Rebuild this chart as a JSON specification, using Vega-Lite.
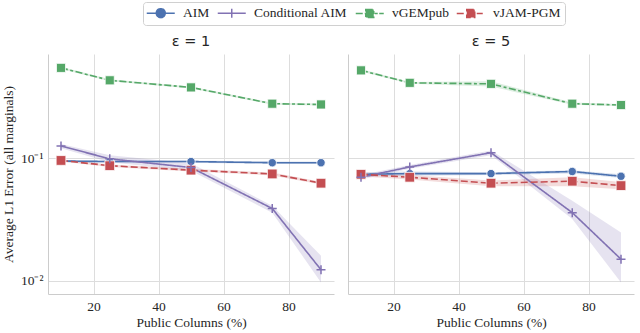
{
  "$schema": "https://vega.github.io/schema/vega-lite/v6.json",
  "padding": {"left": 1, "right": 2, "top": 1, "bottom": 2},
  "background": "white",
  "data": {"values": [
    {"eps": "1", "method": "AIM", "x": 10, "y": 0.095, "lo": 0.093, "hi": 0.097},
    {"eps": "1", "method": "AIM", "x": 25, "y": 0.094, "lo": 0.092, "hi": 0.096},
    {"eps": "1", "method": "AIM", "x": 50, "y": 0.094, "lo": 0.092, "hi": 0.096},
    {"eps": "1", "method": "AIM", "x": 75, "y": 0.092, "lo": 0.090, "hi": 0.094},
    {"eps": "1", "method": "AIM", "x": 90, "y": 0.092, "lo": 0.090, "hi": 0.094},
    {"eps": "1", "method": "Conditional AIM", "x": 10, "y": 0.126, "lo": 0.121, "hi": 0.131},
    {"eps": "1", "method": "Conditional AIM", "x": 25, "y": 0.099, "lo": 0.093, "hi": 0.106},
    {"eps": "1", "method": "Conditional AIM", "x": 50, "y": 0.084, "lo": 0.079, "hi": 0.091},
    {"eps": "1", "method": "Conditional AIM", "x": 75, "y": 0.0389, "lo": 0.036, "hi": 0.041},
    {"eps": "1", "method": "Conditional AIM", "x": 90, "y": 0.0123, "lo": 0.0097, "hi": 0.016},
    {"eps": "1", "method": "vGEMpub", "x": 10, "y": 0.547, "lo": 0.535, "hi": 0.56},
    {"eps": "1", "method": "vGEMpub", "x": 25, "y": 0.433, "lo": 0.425, "hi": 0.442},
    {"eps": "1", "method": "vGEMpub", "x": 50, "y": 0.379, "lo": 0.372, "hi": 0.386},
    {"eps": "1", "method": "vGEMpub", "x": 75, "y": 0.279, "lo": 0.274, "hi": 0.284},
    {"eps": "1", "method": "vGEMpub", "x": 90, "y": 0.275, "lo": 0.27, "hi": 0.28},
    {"eps": "1", "method": "vJAM-PGM", "x": 10, "y": 0.096, "lo": 0.094, "hi": 0.098},
    {"eps": "1", "method": "vJAM-PGM", "x": 25, "y": 0.087, "lo": 0.085, "hi": 0.089},
    {"eps": "1", "method": "vJAM-PGM", "x": 50, "y": 0.080, "lo": 0.078, "hi": 0.082},
    {"eps": "1", "method": "vJAM-PGM", "x": 75, "y": 0.0745, "lo": 0.0725, "hi": 0.0765},
    {"eps": "1", "method": "vJAM-PGM", "x": 90, "y": 0.0626, "lo": 0.061, "hi": 0.0642},
    {"eps": "5", "method": "AIM", "x": 10, "y": 0.074, "lo": 0.071, "hi": 0.077},
    {"eps": "5", "method": "AIM", "x": 25, "y": 0.075, "lo": 0.072, "hi": 0.078},
    {"eps": "5", "method": "AIM", "x": 50, "y": 0.075, "lo": 0.073, "hi": 0.077},
    {"eps": "5", "method": "AIM", "x": 75, "y": 0.078, "lo": 0.075, "hi": 0.080},
    {"eps": "5", "method": "AIM", "x": 90, "y": 0.0713, "lo": 0.069, "hi": 0.074},
    {"eps": "5", "method": "Conditional AIM", "x": 10, "y": 0.070, "lo": 0.067, "hi": 0.073},
    {"eps": "5", "method": "Conditional AIM", "x": 25, "y": 0.085, "lo": 0.082, "hi": 0.088},
    {"eps": "5", "method": "Conditional AIM", "x": 50, "y": 0.111, "lo": 0.106, "hi": 0.116},
    {"eps": "5", "method": "Conditional AIM", "x": 75, "y": 0.036, "lo": 0.032, "hi": 0.045},
    {"eps": "5", "method": "Conditional AIM", "x": 90, "y": 0.0150, "lo": 0.0097, "hi": 0.0248},
    {"eps": "5", "method": "vGEMpub", "x": 10, "y": 0.522, "lo": 0.51, "hi": 0.535},
    {"eps": "5", "method": "vGEMpub", "x": 25, "y": 0.413, "lo": 0.405, "hi": 0.42},
    {"eps": "5", "method": "vGEMpub", "x": 50, "y": 0.405, "lo": 0.385, "hi": 0.425},
    {"eps": "5", "method": "vGEMpub", "x": 75, "y": 0.279, "lo": 0.273, "hi": 0.285},
    {"eps": "5", "method": "vGEMpub", "x": 90, "y": 0.272, "lo": 0.266, "hi": 0.278},
    {"eps": "5", "method": "vJAM-PGM", "x": 10, "y": 0.074, "lo": 0.071, "hi": 0.077},
    {"eps": "5", "method": "vJAM-PGM", "x": 25, "y": 0.070, "lo": 0.067, "hi": 0.073},
    {"eps": "5", "method": "vJAM-PGM", "x": 50, "y": 0.0626, "lo": 0.059, "hi": 0.066},
    {"eps": "5", "method": "vJAM-PGM", "x": 75, "y": 0.065, "lo": 0.059, "hi": 0.070},
    {"eps": "5", "method": "vJAM-PGM", "x": 90, "y": 0.0598, "lo": 0.056, "hi": 0.064}
  ]},
  "spacing": 14,
  "hconcat": [
    {
      "width": 286,
      "height": 240,
      "title": {"text": "ε = 1", "font": "DejaVu Sans", "fontSize": 14.5, "fontWeight": "normal", "color": "#262626", "offset": 5},
      "transform": [{"filter": "datum.eps === '1'"}],
      "encoding": {
        "x": {"field": "x", "type": "quantitative", "scale": {"domain": [6, 94], "nice": false}, "axis": {"values": [20, 40, 60, 80], "title": "Public Columns (%)"}},
        "color": {"field": "method", "type": "nominal", "scale": {"domain": ["AIM", "Conditional AIM", "vGEMpub", "vJAM-PGM"], "range": ["#4C72B0", "#8172B3", "#55A868", "#C44E52"]}}
      },
      "layer": [
        {
          "mark": {"type": "area", "opacity": 0.2},
          "encoding": {
            "y": {"field": "lo", "type": "quantitative", "scale": {"type": "log", "domain": [0.0078, 0.71], "nice": false}, "axis": {"values": [0.01, 0.1], "labelExpr": "datum.value < 0.05 ? '10⁻²' : '10⁻¹'", "title": "Average L1 Error (all marginals)"}},
            "y2": {"field": "hi"}
          }
        },
        {
          "mark": {"type": "line", "strokeWidth": 1.6},
          "encoding": {
            "y": {"field": "y", "type": "quantitative"},
            "color": {"field": "method", "type": "nominal", "legend": {
              "orient": "none", "legendX": 95, "legendY": -52, "direction": "horizontal", "columns": 4,
              "title": null, "labelFont": "Liberation Serif", "labelFontSize": 13.5, "labelColor": "#262626",
              "strokeColor": "#d0d0d0", "fillColor": "white", "cornerRadius": 3, "padding": 4,
              "symbolSize": 100, "symbolOffset": 7, "columnPadding": 4, "labelOffset": 15.5,
              "encode": {"symbols": {"update": {
                "shape": {"signal": "datum.value === 'AIM' ? 'M-2.8,0H2.8M0.9,0A0.9,0.9,0,1,1,-0.9,0A0.9,0.9,0,1,1,0.9,0Z' : datum.value === 'Conditional AIM' ? 'M-2.8,0H2.8M0,-0.9V0.9M-0.9,0H0.9' : datum.value === 'vGEMpub' ? 'M-2.8,0H-1.3M-1.0,0H-0.6M1.0,0H1.6M1.9,0H2.8M-0.8,-0.8H0.8V0.8H-0.8Z' : 'M-2.8,0H-1.0M1.2,0H2.4M-0.8,-0.8H0.8V0.8H-0.8Z'"},
                "fill": {"signal": "scale('color', datum.value)"},
                "stroke": {"signal": "scale('color', datum.value)"},
                "strokeWidth": {"value": 1.5},
                "strokeDash": {"value": [1, 0]},
                "opacity": {"value": 1},
                "fillOpacity": {"value": 1},
                "size": {"value": 100}
              }}}
            }},
            "strokeDash": {"field": "method", "type": "nominal", "scale": {"domain": ["AIM", "Conditional AIM", "vGEMpub", "vJAM-PGM"], "range": [[1, 0], [1, 0], [7, 2.5, 3, 2.5], [7, 3]]}, "legend": null}
          }
        },
        {
          "transform": [{"filter": "datum.method !== 'Conditional AIM'"}],
          "mark": {"type": "point", "filled": true, "opacity": 1, "stroke": "white", "strokeWidth": 0.8},
          "encoding": {
            "y": {"field": "y", "type": "quantitative"},
            "shape": {"field": "method", "type": "nominal", "scale": {"domain": ["AIM", "vGEMpub", "vJAM-PGM"], "range": ["circle", "square", "square"]}, "legend": null},
            "size": {"field": "method", "type": "nominal", "scale": {"domain": ["AIM", "vGEMpub", "vJAM-PGM"], "range": [70, 95, 95]}, "legend": null}
          }
        },
        {
          "transform": [{"filter": "datum.method === 'Conditional AIM'"}],
          "mark": {"type": "point", "filled": false, "opacity": 1, "shape": "M-1,0H1M0,-1V1", "size": 81, "strokeWidth": 1.5},
          "encoding": {
            "y": {"field": "y", "type": "quantitative"}
          }
        }
      ]
    },
    {
      "width": 286,
      "height": 240,
      "title": {"text": "ε = 5", "font": "DejaVu Sans", "fontSize": 14.5, "fontWeight": "normal", "color": "#262626", "offset": 5},
      "transform": [{"filter": "datum.eps === '5'"}],
      "encoding": {
        "x": {"field": "x", "type": "quantitative", "scale": {"domain": [6, 94], "nice": false}, "axis": {"values": [20, 40, 60, 80], "title": "Public Columns (%)"}},
        "color": {"field": "method", "type": "nominal"}
      },
      "layer": [
        {
          "mark": {"type": "area", "opacity": 0.2},
          "encoding": {
            "y": {"field": "lo", "type": "quantitative", "scale": {"type": "log", "domain": [0.0078, 0.71], "nice": false}, "axis": {"values": [0.01, 0.1], "labels": false, "title": null}},
            "y2": {"field": "hi"}
          }
        },
        {
          "mark": {"type": "line", "strokeWidth": 1.6},
          "encoding": {
            "y": {"field": "y", "type": "quantitative"},
            "strokeDash": {"field": "method", "type": "nominal", "legend": null}
          }
        },
        {
          "transform": [{"filter": "datum.method !== 'Conditional AIM'"}],
          "mark": {"type": "point", "filled": true, "opacity": 1, "stroke": "white", "strokeWidth": 0.8},
          "encoding": {
            "y": {"field": "y", "type": "quantitative"},
            "shape": {"field": "method", "type": "nominal", "legend": null},
            "size": {"field": "method", "type": "nominal", "legend": null}
          }
        },
        {
          "transform": [{"filter": "datum.method === 'Conditional AIM'"}],
          "mark": {"type": "point", "filled": false, "opacity": 1, "shape": "M-1,0H1M0,-1V1", "size": 81, "strokeWidth": 1.5},
          "encoding": {
            "y": {"field": "y", "type": "quantitative"}
          }
        }
      ]
    }
  ],
  "config": {
    "view": {"stroke": null},
    "font": "Liberation Serif",
    "axis": {
      "grid": true, "gridColor": "#dddddd", "gridWidth": 1,
      "domainColor": "#cccccc", "domainWidth": 1,
      "ticks": false, "tickSize": 0,
      "labelFont": "Liberation Serif", "labelFontSize": 13.5, "labelColor": "#262626", "labelPadding": 5,
      "titleFont": "Liberation Serif", "titleFontSize": 13.5, "titleFontWeight": "normal", "titleColor": "#262626"
    },
    "axisX": {"titlePadding": 3},
    "axisY": {"titlePadding": 5}
  }
}
